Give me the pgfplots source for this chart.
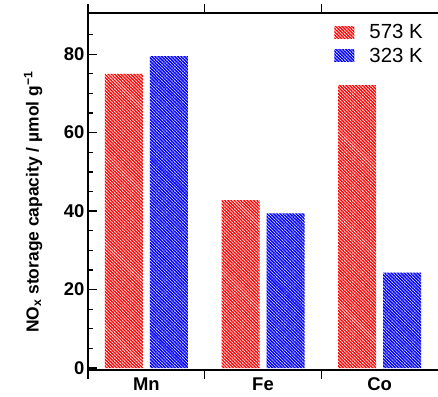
\documentclass[border=0pt]{standalone}
\usepackage{fontspec}
\setmainfont{Liberation Sans}
\usepackage{pgfplots}
\pgfplotsset{compat=1.18}
\usetikzlibrary{patterns.meta}
\begin{document}
\begin{tikzpicture}
\begin{axis}[
  scale only axis,
  width=350bp, height=357bp,
  xmin=-0.5, xmax=2.5,
  ymin=-0.5, ymax=90.5,
  ybar=7bp, bar width=38bp,
  axis x line*=box, axis y line*=left,
  axis line style={line width=1.3bp},
  major tick length=9bp, minor tick length=4.5bp,
  xtick={-0.5,0.5,1.5}, xticklabels={},
  xtick align=outside,
  extra x ticks={0,1,2}, extra x tick labels={Mn,Fe,Co},
  extra x tick style={major tick length=0pt, xticklabel style={yshift=-4bp}},
  ytick={0,20,40,60,80},
  minor ytick={5,10,15,25,30,35,45,50,55,65,70,75,85},
  ytick align=inside,
  tick style={line width=1.3bp, black},
  /pgf/number format/assume math mode=true,
  tick label style={font=\fontsize{18.5}{21}\selectfont\bfseries},
  ylabel={NO\textsubscript{x} storage capacity / µmol g\textsuperscript{−1}},
  every axis y label/.style={at={(axis description cs:-0.157,0.47)}, rotate=90, anchor=center,
    font=\fontsize{17.5}{20}\selectfont\bfseries},
  legend style={at={(1,1)}, anchor=north east, xshift=-10bp, yshift=-7bp, draw=none, fill=none,
    font=\fontsize{20.5}{23}\selectfont, row sep=4bp, column sep=13bp},
  legend cell align=left,
  legend image code/.code={\path[#1] (0bp,-6bp) rectangle (20bp,6bp);},
]
\addplot[draw=none, pattern={Lines[angle=-45, distance=2.3pt, line width=1.4pt]}, pattern color=red]
  coordinates {(0,75.0) (1,42.8) (2,72.1)};
\addplot[draw=none, pattern={Lines[angle=-45, distance=2.3pt, line width=1.6pt]}, pattern color=blue]
  coordinates {(0,79.5) (1,39.4) (2,24.3)};
\legend{573 K, 323 K}
\end{axis}
\pgfresetboundingbox
\path ([xshift=-88bp,yshift=-27bp]current axis.south west) rectangle ([yshift=13bp]current axis.north east);
\end{tikzpicture}
\end{document}
